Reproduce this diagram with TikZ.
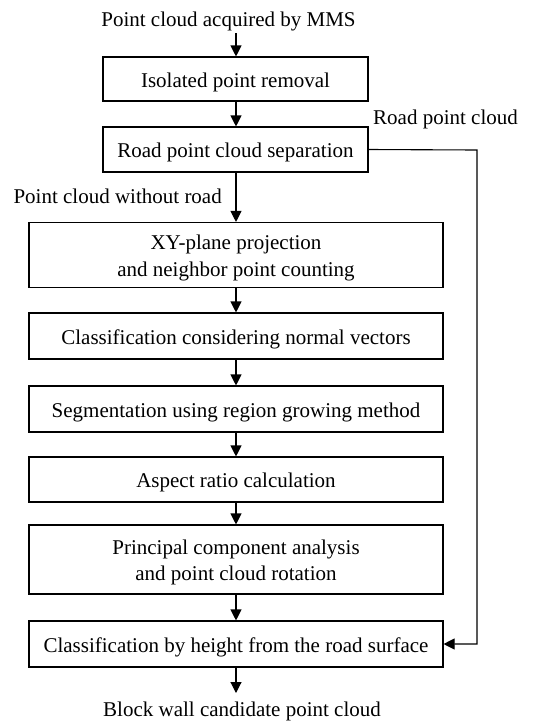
\documentclass[tikz,border=0pt]{standalone}
\usepackage{fontspec}
\setmainfont{Liberation Serif}
\usetikzlibrary{arrows.meta}
\tikzset{
  flow/.style={line width=1.1pt, -{Triangle[length=11pt,width=11pt]}},
  procbox/.style={draw, line width=1.1pt, inner sep=0pt},
  boxtext/.style={inner sep=0pt, align=center, yshift=-3pt,
    font=\fontsize{21}{26.5}\selectfont},
  lbl/.style={inner sep=0pt, font=\fontsize{21}{26.5}\selectfont},
}
\begin{document}
\begin{tikzpicture}[x=1pt, y=-1pt]
  \useasboundingbox (0,0) rectangle (540,721);

  % input / output labels
  \node[lbl, anchor=base] (input) at (228.5,26) {Point cloud acquired by MMS};
  \node[lbl, anchor=base] (output) at (242,716) {Block wall candidate point cloud};
  \node[lbl, anchor=base west] (roadlbl) at (373,124) {Road point cloud};
  \node[lbl, anchor=base east] (nonroadlbl) at (222,203) {Point cloud without road};

  % processing step frames
  \node[procbox, minimum width=265pt, minimum height=44pt] (s1) at (235.5,79) {};
  \node[procbox, minimum width=265pt, minimum height=45pt] (s2) at (235.5,149.5) {};
  \node[procbox, minimum width=414pt, minimum height=65pt] (s3) at (236,255) {};
  \node[procbox, minimum width=414pt, minimum height=46pt] (s4) at (236,336) {};
  \node[procbox, minimum width=414pt, minimum height=46pt] (s5) at (236,409) {};
  \node[procbox, minimum width=414pt, minimum height=45pt] (s6) at (236,479.5) {};
  \node[procbox, minimum width=414pt, minimum height=69pt] (s7) at (236,559.5) {};
  \node[procbox, minimum width=414pt, minimum height=46pt] (s8) at (236,644) {};

  % processing step texts
  \node[boxtext] (t1) at (s1) {Isolated point removal};
  \node[boxtext] (t2) at (s2) {Road point cloud separation};
  \node[boxtext] (t3) at (s3) {XY-plane projection\\and neighbor point counting};
  \node[boxtext] (t4) at (s4) {Classification considering normal vectors};
  \node[boxtext] (t5) at (s5) {Segmentation using region growing method};
  \node[boxtext] (t6) at (s6) {Aspect ratio calculation};
  \node[boxtext] (t7) at (s7) {Principal component analysis\\and point cloud rotation};
  \node[boxtext] (t8) at (s8) {Classification by height from the road surface};

  % connector end points
  \coordinate (inend) at (236,33);
  \coordinate (outend) at (236,693);
  \coordinate (roadtop) at (477,150);
  \coordinate (roadbot) at (477,644);

  % main flow
  \draw[flow] (inend) -- (s1.north -| inend);
  \draw[flow] (s1.south -| inend) -- (s2.north -| inend);
  \draw[flow] (s2.south -| inend) -- (s3.north);
  \draw[flow] (s3) -- (s4);
  \draw[flow] (s4) -- (s5);
  \draw[flow] (s5) -- (s6);
  \draw[flow] (s6) -- (s7);
  \draw[flow] (s7) -- (s8);
  \draw[flow] (s8) -- (outend);

  % road point cloud bypass
  \draw[flow] (s2.east) -- (roadtop) -- (roadbot) -- (s8.east);
\end{tikzpicture}
\end{document}
